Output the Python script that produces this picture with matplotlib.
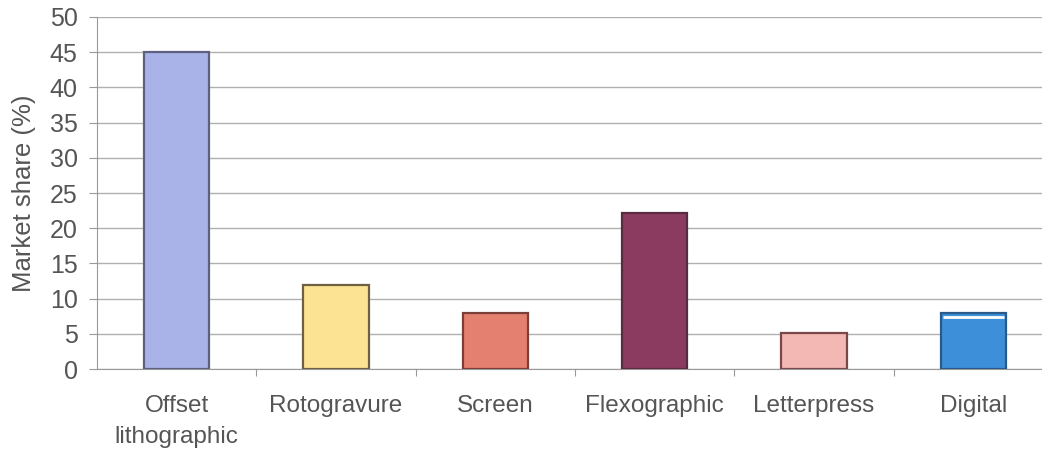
import matplotlib.pyplot as plt

categories = ['Offset\nlithographic', 'Rotogravure', 'Screen', 'Flexographic', 'Letterpress', 'Digital']
shares = [45, 11.9, 7.9, 22.2, 5.1, 7.9]
fill_colors = ['#A9B3E8', '#FCE393', '#E3806F', '#8C3B60', '#F3B7B4', '#3D8FDA']
edge_colors = ['#5E6080', '#6E6040', '#7A4038', '#5A2A40', '#7A4848', '#2A5A8A']

plt.rcParams['font.family'] = ['Liberation Sans', 'DejaVu Sans']

fig = plt.figure(figsize=(10.42, 4.53), dpi=100)
ax = fig.add_axes([0.0931, 0.1854, 0.9175, 0.7771])

x = list(range(len(categories)))
ax.bar(x, shares, width=0.41, color=fill_colors, edgecolor=edge_colors, linewidth=1.6, zorder=3)
# white streak near the top of the Digital bar
ax.hlines(shares[-1] - 0.45, x[-1] - 0.19, x[-1] + 0.19, color='white', linewidth=2, zorder=4)

ax.set_xlim(-0.5, len(categories) - 0.5)
ax.set_ylim(0, 50)
ax.set_yticks(range(0, 51, 5))
ax.yaxis.grid(True, color='#B0B0B0', linewidth=1, zorder=0)

ax.set_xticks([i + 0.5 for i in x[:-1]], minor=False)
ax.set_xticklabels([])
ax.set_xticks(x, minor=True)
ax.set_xticklabels(categories, minor=True, fontsize=17.5, color='#555555', linespacing=1.5)
ax.tick_params(axis='x', which='minor', length=0, pad=19)
ax.tick_params(axis='x', which='major', length=5, color='#999999')
ax.tick_params(axis='y', length=6, color='#999999', labelsize=18, labelcolor='#555555', pad=8)

ax.set_ylabel('Market share (%)', fontsize=18.5, color='#555555', labelpad=10)

for s in ['top', 'right']:
    ax.spines[s].set_visible(False)
for s in ['left', 'bottom']:
    ax.spines[s].set_color('#999999')

plt.savefig('out.png', dpi=100)
